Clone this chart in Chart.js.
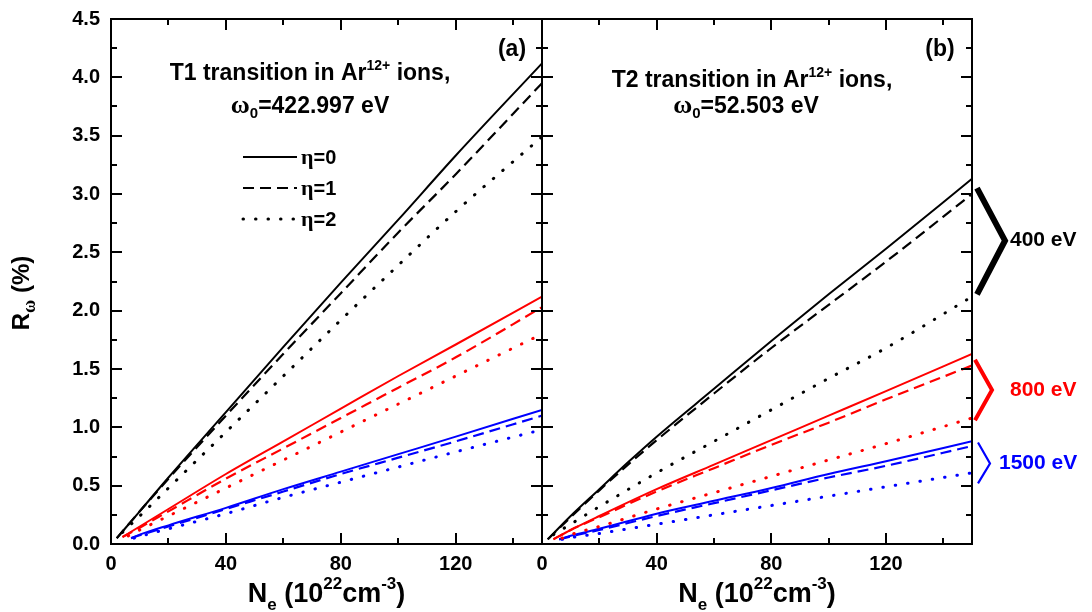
<!DOCTYPE html>
<html>
<head>
<meta charset="utf-8">
<script src="https://cdn.jsdelivr.net/npm/chart.js@4.4.1/dist/chart.umd.min.js"></script>
<style>
  html, body { margin: 0; padding: 0; background: #fff; }
  #wrap { position: relative; width: 1092px; height: 612px; }
  #wrap canvas { position: absolute; left: 0; top: 0; }
</style>
</head>
<body>
<div id="wrap">
  <canvas id="chartA" width="1092" height="612"></canvas>
  <canvas id="chartB" width="1092" height="612"></canvas>
</div>
<script>
// axes
const xTickLabels = [0, 40, 80, 120];
const xMinorTicks = [20, 60, 100, 140];
const yTickLabels = ['0.0', '0.5', '1.0', '1.5', '2.0', '2.5', '3.0', '3.5', '4.0', '4.5'];
const yMinorTicks = [0.25, 0.75, 1.25, 1.75, 2.25, 2.75, 3.25, 3.75, 4.25];
const etaLabels = ['η=0', 'η=1', 'η=2'];

// (a) T1 transition, omega0 = 422.997 eV
const t1BlackX  = [2, 10, 20, 40, 60, 80, 100, 120, 150];
const t1Black0  = [0.05, 0.28, 0.57, 1.13, 1.69, 2.24, 2.78, 3.33, 4.12];
const t1Black1  = [0.05, 0.28, 0.56, 1.10, 1.63, 2.15, 2.67, 3.17, 3.95];
const t1Black2X = [4, 10, 20, 40, 60, 80, 100, 120, 150];
const t1Black2  = [0.10, 0.24, 0.48, 0.96, 1.44, 1.92, 2.39, 2.85, 3.49];

const t1RedX  = [4, 10, 20, 40, 60, 80, 100, 120, 150];
const t1Red0  = [0.06, 0.15, 0.30, 0.60, 0.88, 1.16, 1.44, 1.71, 2.12];
const t1Red1  = [0.06, 0.14, 0.28, 0.56, 0.82, 1.08, 1.34, 1.60, 2.03];
const t1Red2X = [6, 10, 20, 40, 60, 80, 100, 120, 150];
const t1Red2  = [0.07, 0.12, 0.24, 0.48, 0.72, 0.96, 1.20, 1.44, 1.80];

const t1BlueX  = [7, 10, 20, 40, 60, 80, 100, 120, 150];
const t1Blue0  = [0.05, 0.08, 0.16, 0.31, 0.47, 0.62, 0.77, 0.92, 1.15];
const t1Blue1  = [0.05, 0.075, 0.15, 0.30, 0.45, 0.60, 0.74, 0.88, 1.10];
const t1Blue2X = [8, 10, 20, 40, 60, 80, 100, 120, 150];
const t1Blue2  = [0.05, 0.065, 0.13, 0.26, 0.40, 0.53, 0.66, 0.79, 0.98];

// (b) T2 transition, omega0 = 52.503 eV
const t2BlackX  = [2, 10, 20, 30, 40, 60, 80, 100, 120, 150];
const t2Black0  = [0.04, 0.24, 0.47, 0.70, 0.92, 1.33, 1.74, 2.14, 2.53, 3.13];
const t2Black1  = [0.04, 0.23, 0.46, 0.68, 0.89, 1.29, 1.68, 2.05, 2.42, 3.00];
const t2Black2X = [4, 10, 20, 40, 60, 80, 100, 120, 150];
const t2Black2  = [0.08, 0.17, 0.32, 0.61, 0.88, 1.15, 1.42, 1.68, 2.12];

const t2RedX  = [4, 10, 20, 40, 60, 80, 100, 120, 150];
const t2Red0  = [0.04, 0.12, 0.24, 0.47, 0.68, 0.89, 1.10, 1.31, 1.63];
const t2Red1  = [0.04, 0.12, 0.23, 0.45, 0.65, 0.85, 1.04, 1.24, 1.53];
const t2Red2X = [7, 10, 20, 40, 60, 80, 100, 120, 150];
const t2Red2  = [0.05, 0.08, 0.15, 0.30, 0.44, 0.58, 0.72, 0.86, 1.08];

const t2BlueX  = [6, 10, 20, 40, 60, 80, 100, 120, 150];
const t2Blue0  = [0.04, 0.07, 0.13, 0.26, 0.37, 0.48, 0.60, 0.71, 0.88];
const t2Blue1  = [0.04, 0.065, 0.12, 0.24, 0.35, 0.46, 0.57, 0.67, 0.84];
const t2Blue2X = [7, 10, 20, 40, 60, 80, 100, 120, 150];
const t2Blue2  = [0.04, 0.055, 0.09, 0.17, 0.25, 0.33, 0.41, 0.49, 0.61];

// electron temperature groups on the right of panel (b): [top, tip, bottom] in R units
const tempLabels = ['400 eV', '800 eV', '1500 eV'];
const tempSpans = [[3.05, 2.60, 2.14], [1.58, 1.32, 1.06], [0.87, 0.69, 0.52]];

const BLACK = '#000000', RED = '#ff0000', BLUE = '#0000ff';
const SANS = '"Liberation Sans", Arial, Helvetica, sans-serif';
const SERIF = '"Liberation Serif", "Times New Roman", serif';

const etaStyle = [
  { borderWidth: 2, borderDash: [], borderCapStyle: 'butt' },
  { borderWidth: 2.2, borderDash: [11, 6], borderCapStyle: 'butt' },
  { borderWidth: 3, borderDash: [0.5, 12], borderCapStyle: 'round' }
];

function line(xs, ys, color, eta) {
  return Object.assign({
    data: xs.map((x, i) => ({ x: x, y: ys[i] })),
    borderColor: color,
    pointRadius: 0,
    fill: false,
    cubicInterpolationMode: 'monotone'
  }, etaStyle[eta]);
}

// text with sub/superscripts: parts = [text, size, dy, family]
function rich(ctx, parts, x, y, align) {
  const f = p => 'bold ' + p[1] + 'px ' + (p[3] || SANS);
  let w = 0;
  parts.forEach(p => { ctx.font = f(p); w += ctx.measureText(p[0]).width; });
  let cx = align === 'center' ? x - w / 2 : x;
  parts.forEach(p => {
    ctx.font = f(p);
    ctx.fillText(p[0], cx, y + (p[2] || 0));
    cx += ctx.measureText(p[0]).width;
  });
}

function frame(ctx, chart) {
  const a = chart.chartArea, x = chart.scales.x, y = chart.scales.y;
  ctx.strokeStyle = '#000';
  ctx.lineWidth = 2;
  ctx.beginPath();
  xTickLabels.concat(xMinorTicks).forEach(v => {
    const len = xTickLabels.includes(v) ? 11 : 6;
    const px = Math.round(x.getPixelForValue(v));
    ctx.moveTo(px, a.bottom); ctx.lineTo(px, a.bottom - len);
    ctx.moveTo(px, a.top); ctx.lineTo(px, a.top + len);
  });
  yTickLabels.map(Number).concat(yMinorTicks).forEach(v => {
    const len = yMinorTicks.includes(v) ? 6 : 11;
    const py = Math.round(y.getPixelForValue(v));
    ctx.moveTo(a.left, py); ctx.lineTo(a.left + len, py);
    ctx.moveTo(a.right, py); ctx.lineTo(a.right - len, py);
  });
  ctx.stroke();
  ctx.strokeRect(a.left, a.top, a.right - a.left, a.bottom - a.top);

  // x axis title
  ctx.fillStyle = '#000';
  ctx.textBaseline = 'alphabetic';
  const cx = (a.left + a.right) / 2;
  rich(ctx, [['N', 27], ['e', 17, 8], [' (10', 27], ['22', 17, -13], ['cm', 27], ['-3', 17, -13], [')', 27]], cx, 602, 'center');
}

const decorA = {
  id: 'decorA',
  afterDatasetsDraw(chart) {
    const ctx = chart.ctx;
    ctx.save();
    frame(ctx, chart);
    // y title
    ctx.save();
    ctx.translate(29, 293);
    ctx.rotate(-Math.PI / 2);
    rich(ctx, [['R', 24], ['ω', 18, 6, SERIF], [' (%)', 24]], 0, 0, 'center');
    ctx.restore();
    // panel text
    rich(ctx, [['T1 transition in Ar', 23], ['12+', 14, -10], [' ions,', 23]], 310, 80, 'center');
    rich(ctx, [['ω', 26, 0, SERIF], ['0', 15, 5], ['=422.997 eV', 23]], 310, 113, 'center');
    rich(ctx, [['(a)', 23]], 512, 56, 'center');
    // legend
    const ly = [157, 188, 219];
    etaLabels.forEach((lab, i) => {
      const st = etaStyle[i];
      ctx.save();
      ctx.strokeStyle = '#000';
      ctx.lineWidth = st.borderWidth;
      ctx.lineCap = st.borderCapStyle;
      ctx.setLineDash(st.borderDash);
      ctx.beginPath();
      ctx.moveTo(243, ly[i]); ctx.lineTo(297, ly[i]);
      ctx.stroke();
      ctx.restore();
      rich(ctx, [[lab.slice(0, 1), 22, 0, SERIF], [lab.slice(1), 20]], 301, ly[i] + 7, 'left');
    });
    ctx.restore();
  }
};

const decorB = {
  id: 'decorB',
  afterDatasetsDraw(chart) {
    const ctx = chart.ctx, a = chart.chartArea, y = chart.scales.y;
    ctx.save();
    frame(ctx, chart);
    ctx.fillStyle = '#000';
    rich(ctx, [['T2 transition in Ar', 23], ['12+', 14, -10], [' ions,', 23]], 752, 87, 'center');
    rich(ctx, [['ω', 26, 0, SERIF], ['0', 15, 5], ['=52.503 eV', 23]], 746, 113, 'center');
    rich(ctx, [['(b)', 23]], 940, 56, 'center');
    // temperature brackets
    const colors = [BLACK, RED, BLUE];
    const widths = [6, 4, 2.2];
    const xs = [[5, 33, 38], [3, 20, 38], [6, 18, 27]];
    tempSpans.forEach((s, i) => {
      ctx.strokeStyle = colors[i];
      ctx.lineWidth = widths[i];
      ctx.lineJoin = 'miter';
      ctx.beginPath();
      ctx.moveTo(a.right + xs[i][0], y.getPixelForValue(s[0]));
      ctx.lineTo(a.right + xs[i][1], y.getPixelForValue(s[1]));
      ctx.lineTo(a.right + xs[i][0], y.getPixelForValue(s[2]));
      ctx.stroke();
      ctx.fillStyle = colors[i];
      ctx.font = 'bold 21px ' + SANS;
      ctx.textBaseline = 'middle';
      ctx.fillText(tempLabels[i], a.right + xs[i][2], y.getPixelForValue(s[1]));
    });
    ctx.restore();
  }
};

function panelOptions(isLeft) {
  return {
    responsive: false,
    animation: false,
    devicePixelRatio: 1,
    layout: { padding: isLeft ? { left: 0, right: 550, top: 19, bottom: 0 } : { left: 542, right: 120, top: 19, bottom: 0 } },
    plugins: { legend: { display: false }, tooltip: { enabled: false } },
    scales: {
      x: {
        type: 'linear', min: 0, max: 150,
        grid: { display: false, drawTicks: false },
        border: { display: false },
        ticks: { color: '#000', font: { family: SANS, size: 20, weight: 'bold' }, padding: 8, autoSkip: false, maxRotation: 0 },
        afterBuildTicks: s => { s.ticks = xTickLabels.map(v => ({ value: v })); },
        afterFit: s => { s.height = 68; s.paddingLeft = 0; s.paddingRight = 0; }
      },
      y: {
        type: 'linear', min: 0, max: 4.5, display: isLeft,
        grid: { display: false, drawTicks: false },
        border: { display: false },
        ticks: { color: '#000', font: { family: SANS, size: 20, weight: 'bold' }, padding: 11, autoSkip: false, callback: (v, i) => yTickLabels[i] },
        afterBuildTicks: s => { s.ticks = yTickLabels.map(l => ({ value: Number(l) })); },
        afterFit: s => { s.width = isLeft ? 111 : 0; s.paddingTop = 0; s.paddingBottom = 0; }
      }
    }
  };
}

new Chart(document.getElementById('chartA'), {
  type: 'line',
  data: {
    datasets: [
      line(t1BlackX, t1Black0, BLACK, 0), line(t1BlackX, t1Black1, BLACK, 1), line(t1Black2X, t1Black2, BLACK, 2),
      line(t1RedX, t1Red0, RED, 0), line(t1RedX, t1Red1, RED, 1), line(t1Red2X, t1Red2, RED, 2),
      line(t1BlueX, t1Blue0, BLUE, 0), line(t1BlueX, t1Blue1, BLUE, 1), line(t1Blue2X, t1Blue2, BLUE, 2)
    ]
  },
  options: panelOptions(true),
  plugins: [decorA]
});

new Chart(document.getElementById('chartB'), {
  type: 'line',
  data: {
    datasets: [
      line(t2BlackX, t2Black0, BLACK, 0), line(t2BlackX, t2Black1, BLACK, 1), line(t2Black2X, t2Black2, BLACK, 2),
      line(t2RedX, t2Red0, RED, 0), line(t2RedX, t2Red1, RED, 1), line(t2Red2X, t2Red2, RED, 2),
      line(t2BlueX, t2Blue0, BLUE, 0), line(t2BlueX, t2Blue1, BLUE, 1), line(t2Blue2X, t2Blue2, BLUE, 2)
    ]
  },
  options: panelOptions(false),
  plugins: [decorB]
});
</script>
</body>
</html>
